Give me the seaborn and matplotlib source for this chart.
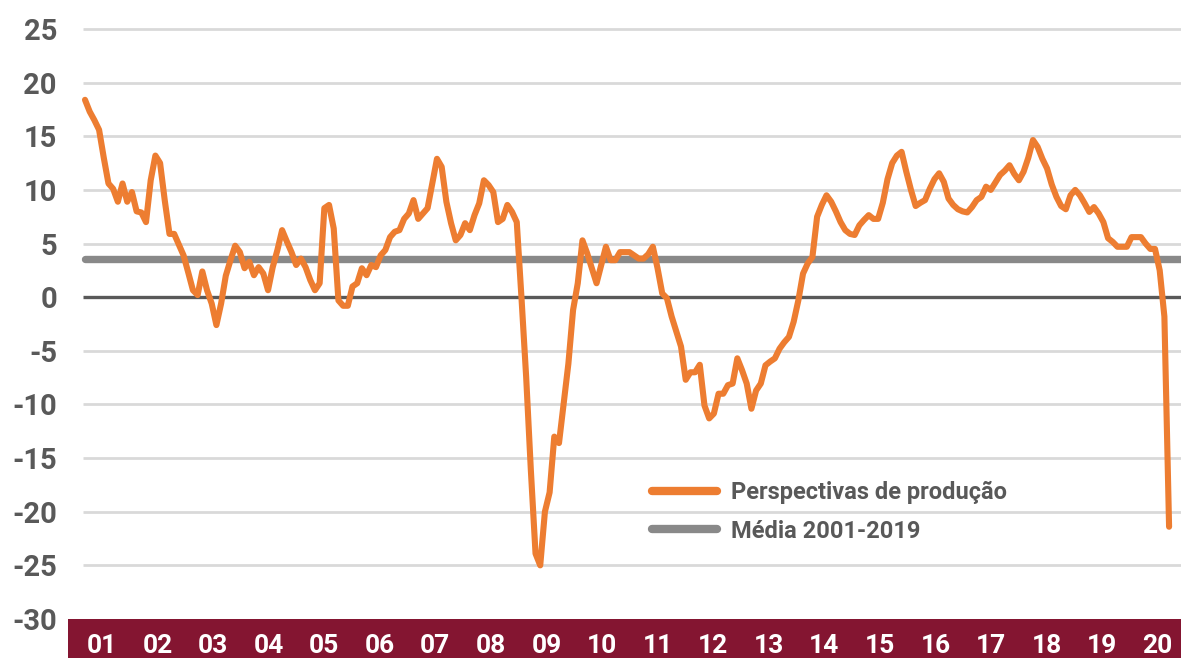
import numpy as np
import pandas as pd
import matplotlib.pyplot as plt
import seaborn as sns

# ------------------------------------------------------------
#  Dados - mensal, jan 2001 a abr 2020
# ------------------------------------------------------------
perspectivas = [
    18.4, 17.3, 16.5, 15.6, 13.0, 10.6, 10.1, 8.9, 10.6, 8.9, 9.8, 8.0,          # 2001
    7.9, 7.0, 10.9, 13.2, 12.5, 9.0, 5.9, 5.9, 4.9, 3.9, 2.3, 0.65,              # 2002
    0.2, 2.4, 0.65, -0.6, -2.6, -0.6, 2.0, 3.45, 4.8, 4.2, 2.7, 3.3,             # 2003
    2.05, 2.8, 2.2, 0.65, 2.8, 4.4, 6.25, 5.2, 4.2, 3.0, 3.6, 2.8,               # 2004
    1.6, 0.65, 1.3, 8.3, 8.6, 6.4, -0.3, -0.8, -0.8, 1.0, 1.3, 2.7,              # 2005
    2.05, 3.0, 2.8, 3.9, 4.4, 5.6, 6.1, 6.25, 7.3, 7.8, 9.05, 7.3,               # 2006
    7.8, 8.3, 10.6, 12.9, 12.15, 8.9, 6.9, 5.3, 5.8, 6.9, 6.25, 7.65,            # 2007
    8.75, 10.9, 10.45, 9.8, 7.0, 7.3, 8.6, 7.95, 7.0, 0.0, -7.4, -16.1,          # 2008
    -23.9, -25.0, -20.0, -18.2, -13.0, -13.6, -9.9, -6.2, -1.2, 1.3, 5.3, 4.1,   # 2009
    2.7, 1.3, 3.0, 4.7, 3.45, 3.45, 4.2, 4.2, 4.2, 3.9, 3.6, 3.6,                # 2010
    4.0, 4.7, 2.7, 0.35, -0.1, -1.8, -3.2, -4.6, -7.7, -7.0, -7.0, -6.3,         # 2011
    -10.1, -11.3, -10.85, -9.0, -9.0, -8.2, -8.05, -5.7, -6.8, -8.05, -10.4, -8.7,  # 2012
    -8.05, -6.35, -6.0, -5.7, -4.8, -4.2, -3.7, -2.3, -0.3, 2.2, 3.15, 3.75,     # 2013
    7.5, 8.6, 9.5, 8.9, 8.0, 7.0, 6.25, 5.9, 5.8, 6.7, 7.2, 7.65,                # 2014
    7.3, 7.3, 8.8, 11.0, 12.5, 13.2, 13.55, 11.7, 10.0, 8.5, 8.8, 9.05,          # 2015
    10.1, 11.0, 11.55, 10.75, 9.2, 8.6, 8.2, 8.0, 7.9, 8.4, 9.05, 9.35,          # 2016
    10.3, 10.0, 10.7, 11.4, 11.8, 12.3, 11.5, 10.9, 11.7, 13.0, 14.65, 14.0,     # 2017
    12.9, 12.0, 10.5, 9.35, 8.5, 8.2, 9.5, 10.0, 9.5, 8.75, 7.95, 8.4,           # 2018
    7.8, 7.0, 5.5, 5.15, 4.7, 4.7, 4.7, 5.6, 5.6, 5.6, 5.0, 4.5,                 # 2019
    4.5, 2.5, -1.8, -21.4,                                                       # 2020
]
media_2001_2019 = 3.6
anos = [f"{a:02d}" for a in range(1, 21)]
y_ticks = list(range(-30, 30, 5))

df = pd.DataFrame({"mes": np.arange(len(perspectivas)), "valor": perspectivas})

# ------------------------------------------------------------
#  Estilo
# ------------------------------------------------------------
sns.set_theme(style="white")
plt.rcParams["font.family"] = ["Roboto", "DejaVu Sans"]

LARANJA = "#ED7D31"
CINZA_MEDIA = "#898989"
CINZA_TXT = "#595959"
GRELHA = "#D9D9D9"
BORDO = "#841531"

W, H = 1181, 658
fig = plt.figure(figsize=(W / 100, H / 100), dpi=100)

# eixo principal (pixels: x 68..1181, y 0..619)
ax = fig.add_axes([68 / W, 39 / H, (W - 68) / W, 619 / H])
px_mes = 4.693      # pixels por mês
x0 = 85             # pixel do primeiro mês
x_ini = (83 - x0) / px_mes
x_fim = (W - x0) / px_mes
ax.set_xlim((68 - x0) / px_mes, x_fim)
ax.set_ylim(-30, 25 + 29 / 10.72)

# grelha horizontal
grelha = [v for v in y_ticks if v not in (0, -30)]
ax.hlines(grelha, x_ini, x_fim, color=GRELHA, lw=2, zorder=1)
ax.hlines(0, x_ini, x_fim, color=CINZA_TXT, lw=2.4, zorder=2)

# média
ax.plot([x_ini + 0.4, x_fim], [media_2001_2019, media_2001_2019], color=CINZA_MEDIA,
        lw=5.3, solid_capstyle="round", zorder=3, label="Média 2001-2019")

# série
sns.lineplot(data=df, x="mes", y="valor", ax=ax, color=LARANJA, lw=4.4,
             solid_capstyle="round", solid_joinstyle="round", zorder=4,
             label="Perspectivas de produção")

ax.set_yticks(y_ticks)
ax.set_yticklabels([str(v) for v in y_ticks], fontsize=21, fontweight="bold",
                   color=CINZA_TXT)
ax.tick_params(axis="y", length=0, pad=8)
ax.set_xticks([])
ax.set_xlabel("")
ax.set_ylabel("")
for s in ax.spines.values():
    s.set_visible(False)

# legenda
handles, labels = ax.get_legend_handles_labels()
order = [labels.index("Perspectivas de produção"), labels.index("Média 2001-2019")]
leg = ax.legend([handles[i] for i in order], [labels[i] for i in order],
                frameon=False, loc="center left",
                bbox_to_anchor=(652 / W, 146 / H), bbox_transform=fig.transFigure,
                borderpad=0, borderaxespad=0, handlelength=2.75, handletextpad=0.6,
                labelspacing=0.65, prop={"size": 17, "weight": "bold"},
                labelcolor=CINZA_TXT)
for ln in leg.get_lines():
    ln.set_linewidth(6)
    ln.set_solid_capstyle("round")

# faixa dos anos
bax = fig.add_axes([68 / W, 0, (W - 68) / W, 39 / H])
bax.set_facecolor(BORDO)
bax.set_xlim(-0.11, 19.92)
bax.set_ylim(0, 1)
for k, lab in enumerate(anos):
    bax.text(k + 0.5, 0.13, lab, ha="center", va="baseline", color="white",
             fontsize=19, fontweight="bold")
bax.set_xticks([])
bax.set_yticks([])
for s in bax.spines.values():
    s.set_visible(False)

fig.savefig("out.png", dpi=100)
